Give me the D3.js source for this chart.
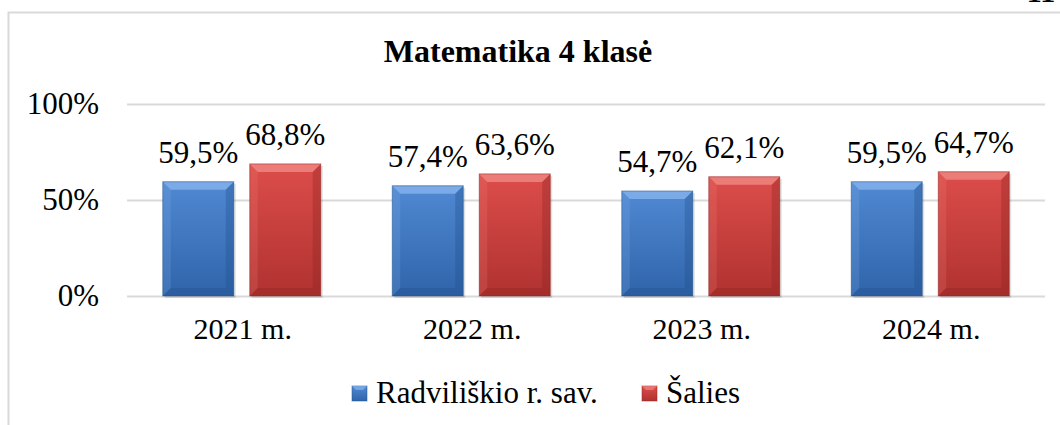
<!DOCTYPE html>
<html>
<head>
<meta charset="utf-8">
<script src="https://cdn.jsdelivr.net/npm/d3@7"></script>
<style>
  body { margin: 0; background: #fff; }
  svg { display: block; }
  svg text { font-family: "Liberation Serif", "Times New Roman", serif !important; fill: #000; }
</style>
</head>
<body>
<div class="chart"></div>
<script>
var years = ['2021 m.', '2022 m.', '2023 m.', '2024 m.'];
var series = ['Radviliškio r. sav.', 'Šalies'];
var radviliskis = [0.595, 0.574, 0.547, 0.595];
var salies = [0.688, 0.636, 0.621, 0.647];
var yTicks = [0, 0.5, 1];

var colors = {
  'Radviliškio r. sav.': {top: '#5089d2', bottom: '#2f64aa', light: '#86b3ec', dark: '#234f8c'},
  'Šalies': {top: '#dc4d4a', bottom: '#b03230', light: '#f08884', dark: '#8c2523'}
};

var width = 1060, height = 425;
var plot = {left: 127, right: 1045, top: 104, bottom: 296};

var data = [];
years.forEach(function(y, i) {
  data.push({year: y, series: series[0], value: radviliskis[i]});
  data.push({year: y, series: series[1], value: salies[i]});
});

var svg = d3.select('div.chart').append('svg')
    .attr('width', width)
    .attr('height', height);

var defs = svg.append('defs');
series.forEach(function(s, i) {
  var g = defs.append('linearGradient')
      .attr('id', 'grad' + i)
      .attr('x1', 0).attr('y1', 0).attr('x2', 0).attr('y2', 1);
  g.append('stop').attr('offset', '0%').attr('stop-color', colors[s].top);
  g.append('stop').attr('offset', '100%').attr('stop-color', colors[s].bottom);
});

// frame
svg.append('path')
    .attr('d', 'M8.5,' + height + ' V12.5 H' + width)
    .attr('fill', 'none')
    .attr('stroke', '#d9d9d9')
    .attr('stroke-width', 2);

// page number peeking at the top
svg.append('text')
    .attr('x', 1041)
    .attr('y', 2)
    .attr('text-anchor', 'middle')
    .attr('font-weight', 'bold')
    .attr('font-size', 30)
    .text('11');

var x0 = d3.scaleBand()
    .domain(years)
    .range([plot.left, plot.right]);
var x1 = d3.scaleBand()
    .domain(series)
    .range([0, x0.bandwidth()])
    .paddingInner(0.184)
    .paddingOuter(0.411);
var y = d3.scaleLinear()
    .domain([0, 1])
    .range([plot.bottom, plot.top]);

svg.append('text')
    .attr('x', 518)
    .attr('y', 62)
    .attr('text-anchor', 'middle')
    .attr('font-weight', 'bold')
    .attr('font-size', 32)
    .text('Matematika 4 klasė');

// gridlines + y labels
var yAxis = svg.append('g')
    .attr('transform', 'translate(' + plot.left + ',0)')
    .call(d3.axisLeft(y)
          .tickValues(yTicks)
          .tickSize(-(plot.right - plot.left))
          .tickPadding(28)
          .tickFormat(d3.format('.0%')));
yAxis.select('.domain').remove();
yAxis.selectAll('line').attr('stroke', '#d9d9d9').attr('stroke-width', 2);
yAxis.selectAll('text')
    .attr('font-size', 31)
    .attr('dy', '0.3em');

// x labels
svg.selectAll('.xlab')
  .data(years).enter().append('text')
    .attr('class', 'xlab')
    .attr('x', d => x0(d) + x0.bandwidth() / 2 + 1)
    .attr('y', 339)
    .attr('text-anchor', 'middle')
    .attr('font-size', 30)
    .text(d => d);

// bars with bevel
var bars = svg.selectAll('.bar')
  .data(data).enter().append('g')
    .attr('class', 'bar')
    .attr('transform', d => 'translate(' + (x0(d.year) + x1(d.series)) + ',' + y(d.value) + ')');

var bw = x1.bandwidth();
var bev = 8;

bars.append('rect')
    .attr('x', 2).attr('y', 2)
    .attr('width', bw).attr('height', d => plot.bottom - y(d.value))
    .attr('fill', '#000').attr('opacity', 0.12);
bars.append('rect')
    .attr('width', bw)
    .attr('height', d => plot.bottom - y(d.value))
    .attr('fill', d => 'url(#grad' + series.indexOf(d.series) + ')');
bars.append('path')
    .attr('d', 'M0,0 H' + bw + ' L' + (bw - bev) + ',' + bev + ' H' + bev + ' Z')
    .attr('fill', d => colors[d.series].light)
    .attr('opacity', 0.8);
bars.append('path')
    .attr('d', d => {
      var h = plot.bottom - y(d.value);
      return 'M' + bw + ',0 V' + h + ' L' + (bw - bev) + ',' + (h - bev) + ' V' + bev + ' Z';
    })
    .attr('fill', d => colors[d.series].dark)
    .attr('opacity', 0.35);
bars.append('path')
    .attr('d', d => {
      var h = plot.bottom - y(d.value);
      return 'M0,0 V' + h + ' L' + bev + ',' + (h - bev) + ' V' + bev + ' Z';
    })
    .attr('fill', d => colors[d.series].light)
    .attr('opacity', 0.2);
bars.append('path')
    .attr('d', d => {
      var h = plot.bottom - y(d.value);
      return 'M0,' + h + ' H' + bw + ' L' + (bw - bev) + ',' + (h - bev) + ' H' + bev + ' Z';
    })
    .attr('fill', d => colors[d.series].dark)
    .attr('opacity', 0.35);
bars.append('rect')
    .attr('width', bw)
    .attr('height', d => plot.bottom - y(d.value))
    .attr('fill', 'none')
    .attr('stroke', d => colors[d.series].dark)
    .attr('stroke-opacity', 0.5);

// value labels
bars.append('text')
    .attr('x', bw / 2)
    .attr('y', -19)
    .attr('text-anchor', 'middle')
    .attr('font-size', 31)
    .text(d => d3.format('.1f')(d.value * 100).replace('.', ',') + '%');

// legend
var legendX = [352, 642];
var legend = svg.selectAll('.legend')
  .data(series).enter().append('g')
    .attr('class', 'legend')
    .attr('transform', (d, i) => 'translate(' + legendX[i] + ',386)');
legend.append('rect')
    .attr('width', 15).attr('height', 15)
    .attr('fill', (d, i) => 'url(#grad' + i + ')')
    .attr('stroke', d => colors[d].dark)
    .attr('stroke-opacity', 0.5);
legend.append('path')
    .attr('d', 'M0,0 H15 L11,4 H4 Z')
    .attr('fill', d => colors[d].light)
    .attr('opacity', 0.7);
legend.append('text')
    .attr('x', 24)
    .attr('y', 17)
    .attr('font-size', 31)
    .text(d => d);
</script>
</body>
</html>
